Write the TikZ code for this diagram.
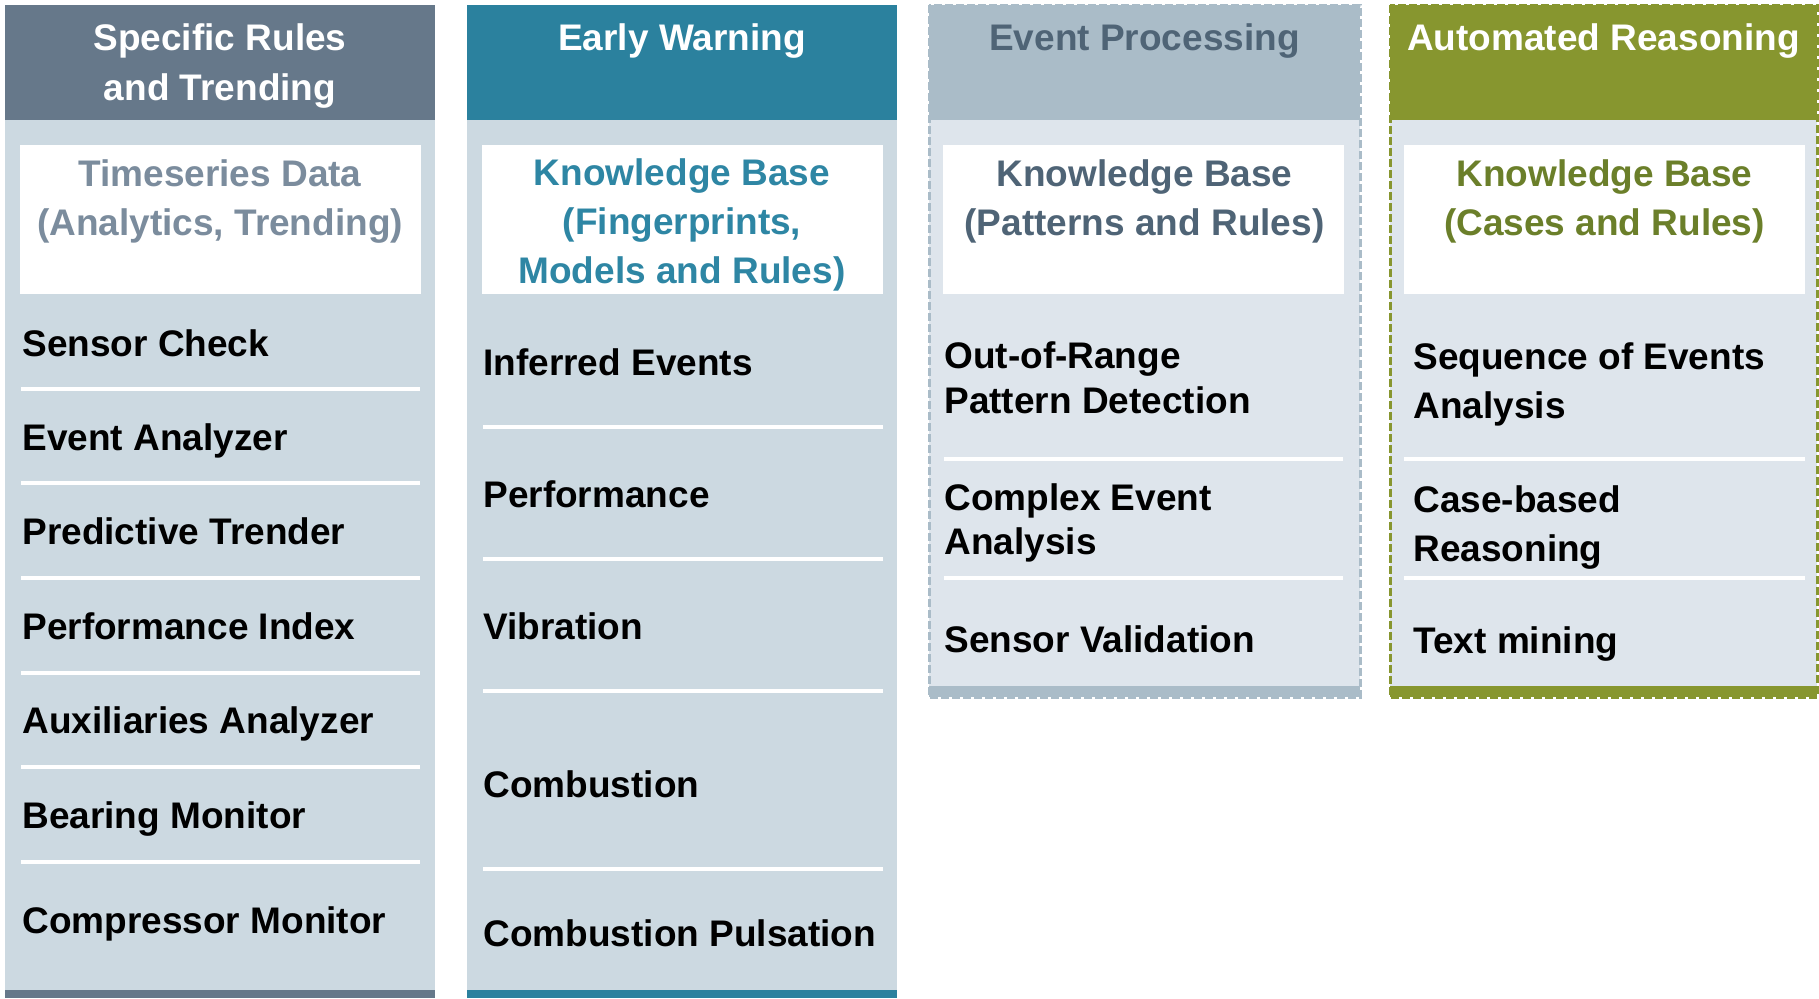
\documentclass[tikz,border=0pt]{standalone}
\usepackage{fontspec}
\setmainfont{Liberation Sans}
\definecolor{cAhead}{HTML}{66788A}
\definecolor{cAbody}{HTML}{CCD9E1}
\definecolor{cAtext}{HTML}{7B8C9D}
\definecolor{cBhead}{HTML}{2B819E}
\definecolor{cBtext}{HTML}{2E86A4}
\definecolor{cChead}{HTML}{AABCC8}
\definecolor{cCtext}{HTML}{4F6476}
\definecolor{cCbody}{HTML}{DEE5EC}
\definecolor{cDhead}{HTML}{87962F}
\definecolor{cDtext}{HTML}{6B7F2A}
\tikzset{
  fs/.style={font=\fontsize{18.5}{#1}\selectfont\bfseries},
  item/.style={anchor=west, inner sep=0pt, align=left, text=black, fs=22.5},
  ctext/.style={anchor=center, inner sep=0pt, align=center},
  divider/.style={draw=white, line width=2pt},
  dashborder/.style={line width=1.5pt, dash pattern=on 4pt off 1.5pt},
}
\begin{document}
\begin{tikzpicture}[x=0.5pt,y=-0.5pt]
\useasboundingbox (0,0) rectangle (1819,998);
% ---------- Column 1 ----------
\fill[cAbody] (5,120) rectangle (435,998);
\fill[cAhead] (5,5) rectangle (435,120);
\fill[cAhead] (5,990) rectangle (435,998);
\fill[white] (20,145) rectangle (421,294);
\node[ctext, text=white, fs=25] (h1) at (220,65) {\strut Specific Rules\\\strut and Trending};
\node[ctext, text=cAtext, fs=24.5] (k1) at (220,200.7) {\strut Timeseries Data\\\strut (Analytics, Trending)};
\node[item] (a1) at (22,347) {\strut Sensor Check};
\node[item] (a2) at (22,441) {\strut Event Analyzer};
\node[item] (a3) at (22,535) {\strut Predictive Trender};
\node[item] (a4) at (22,630) {\strut Performance Index};
\node[item] (a5) at (22,724) {\strut Auxiliaries Analyzer};
\node[item] (a6) at (22,819) {\strut Bearing Monitor};
\node[item] (a7) at (22,924) {\strut Compressor Monitor};
\foreach \yy in {389,483,578,673,767,862} \draw[divider] (21,\yy) -- (420,\yy);
% ---------- Column 2 ----------
\fill[cAbody] (467,120) rectangle (897,998);
\fill[cBhead] (467,5) rectangle (897,120);
\fill[cBhead] (467,990) rectangle (897,998);
\fill[white] (482,145) rectangle (883,294);
\node[ctext, text=white, fs=25] (h2) at (682,40) {\strut Early Warning};
\node[ctext, text=cBtext, fs=24.5] (k2) at (682,224.7) {\strut Knowledge Base\\\strut (Fingerprints,\\\strut Models and Rules)};
\node[item] (b1) at (483,366) {\strut Inferred Events};
\node[item] (b2) at (483,498) {\strut Performance};
\node[item] (b3) at (483,630) {\strut Vibration};
\node[item] (b4) at (483,788) {\strut Combustion};
\node[item] (b5) at (483,937) {\strut Combustion Pulsation};
\foreach \yy in {427,559,691,869} \draw[divider] (483,\yy) -- (883,\yy);
% ---------- Column 3 ----------
\fill[cCbody] (929,120) rectangle (1360,697);
\fill[cChead] (929,5) rectangle (1360,120);
\fill[cChead] (929,686) rectangle (1360,697);
\fill[white] (943,145) rectangle (1344,294);
\draw[cChead, dashborder] (929,5) rectangle (1360,697);
\node[ctext, text=cCtext, fs=25] (h3) at (1144.5,40) {\strut Event Processing};
\node[ctext, text=cCtext, fs=24.5] (k3) at (1144.5,200.7) {\strut Knowledge Base\\\strut (Patterns and Rules)};
\node[item] (c1) at (944,381.5) {\strut Out-of-Range\\\strut Pattern Detection};
\node[item, fs=22] (c2) at (944,524) {\strut Complex Event\\\strut Analysis};
\node[item] (c3) at (944,643) {\strut Sensor Validation};
\foreach \yy in {459,578} \draw[divider] (944,\yy) -- (1343,\yy);
% ---------- Column 4 ----------
\fill[cCbody] (1390,120) rectangle (1817,697);
\fill[cDhead] (1390,5) rectangle (1817,120);
\fill[cDhead] (1390,686) rectangle (1817,697);
\fill[white] (1404,145) rectangle (1805,294);
\draw[cDhead, dashborder] (1390,5) rectangle (1817,697);
\node[ctext, text=white, fs=25] (h4) at (1603.5,40) {\strut Automated Reasoning};
\node[ctext, text=cDtext, fs=24.5] (k4) at (1604.5,200.7) {\strut Knowledge Base\\\strut (Cases and Rules)};
\node[item, fs=24.5] (d1) at (1413,384) {\strut Sequence of Events\\\strut Analysis};
\node[item, fs=24.5] (d2) at (1413,527) {\strut Case-based\\\strut Reasoning};
\node[item] (d3) at (1413,644) {\strut Text mining};
\foreach \yy in {459,578} \draw[divider] (1404,\yy) -- (1805,\yy);
\end{tikzpicture}
\end{document}
